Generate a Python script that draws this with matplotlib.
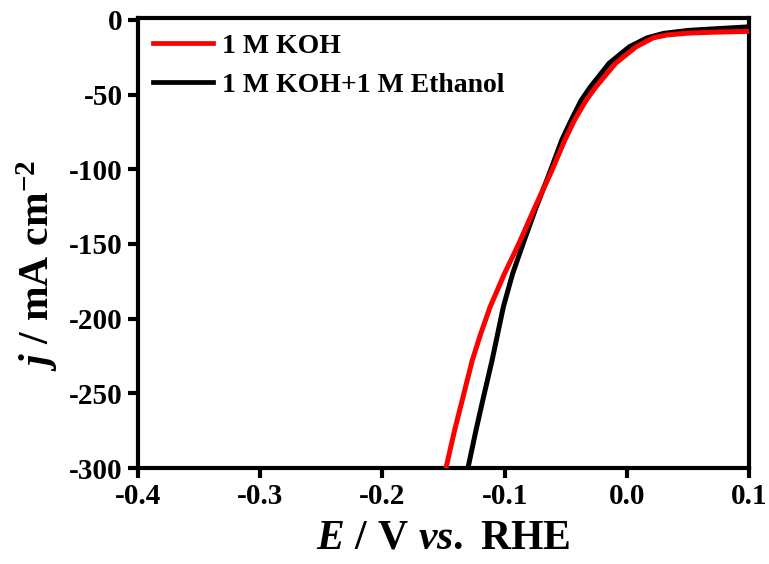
import matplotlib
matplotlib.use("Agg")
import matplotlib.pyplot as plt

plt.rcParams['font.family'] = ['Liberation Serif', 'DejaVu Serif']
plt.rcParams['font.weight'] = 'bold'
plt.rcParams['axes.unicode_minus'] = False
plt.rcParams['mathtext.fontset'] = 'custom'
plt.rcParams['mathtext.rm'] = 'Liberation Serif:bold'
plt.rcParams['mathtext.it'] = 'Liberation Serif:italic:bold'
plt.rcParams['mathtext.bf'] = 'Liberation Serif:bold'

# 1 M KOH
koh_E = [-0.148, -0.1410, -0.1345, -0.1265, -0.1195, -0.1118, -0.1002, -0.0885,
         -0.0750, -0.0625, -0.0505, -0.0428, -0.0335, -0.0255, -0.0092,
         0.0075, 0.0214, 0.033, 0.050, 0.070, 0.100]
koh_j = [-300, -275, -254, -228, -210, -192, -170, -150,
         -125, -103, -80, -67, -54, -45, -29,
         -18, -12, -10, -8.8, -8.2, -7.6]

# 1 M KOH + 1 M Ethanol
eth_E = [-0.130, -0.1235, -0.1177, -0.1103, -0.1010, -0.0935, -0.0850, -0.0740,
         -0.0635, -0.0530, -0.0455, -0.0375, -0.0300, -0.0145, 0.0020,
         0.0165, 0.030, 0.050, 0.070, 0.100]
eth_j = [-300, -275, -254, -228, -192, -170, -150, -125,
         -103, -80, -67, -54, -45, -29, -18,
         -12, -9, -7, -6, -4.6]

xticks = [-0.4, -0.3, -0.2, -0.1, 0.0, 0.1]
xticklabels = ['-0.4', '-0.3', '-0.2', '-0.1', '0.0', '0.1']
yticks = [0, -50, -100, -150, -200, -250, -300]

fig = plt.figure(figsize=(7.69, 5.64), dpi=100)
ax = fig.add_axes([0.1795, 0.1702, 0.7945, 0.7978])

ax.plot(koh_E, koh_j, color='#ff0000', lw=3.6, label='1 M KOH', zorder=3)
ax.plot(eth_E, eth_j, color='black', lw=3.6, label='1 M KOH+1 M Ethanol', zorder=2)

ax.set_xlim(-0.4, 0.1)
ax.set_ylim(-300, 1.3)
ax.set_xticks(xticks)
ax.set_xticklabels(xticklabels)
ax.set_yticks(yticks)
ax.set_yticklabels([str(v) for v in yticks])

for s in ax.spines.values():
    s.set_linewidth(3)
ax.tick_params(direction='out', length=7, width=3, labelsize=21, pad=4)
for lab in ax.get_xticklabels() + ax.get_yticklabels():
    lab.set_fontweight('bold')

ax.set_xlabel(r'$\mathit{E}\ \mathbf{/\ V}\ \mathit{vs}\mathbf{.\ RHE}$', fontsize=30, labelpad=6)
ax.set_ylabel(r'$\mathit{j}\ \mathbf{/\ mA\ cm}^{\mathbf{-2}}$', fontsize=30)
ax.yaxis.set_label_coords(-0.128, 0.45)

leg = ax.legend(loc='upper left', bbox_to_anchor=(0.0, 1.0), frameon=False,
                prop={'weight': 'bold', 'size': 20}, handlelength=2.15,
                handletextpad=0.32, labelspacing=0.5, borderaxespad=0.05,
                borderpad=0.5)
for h in leg.get_lines():
    h.set_linewidth(3.4)

fig.savefig('out.png', dpi=100)
